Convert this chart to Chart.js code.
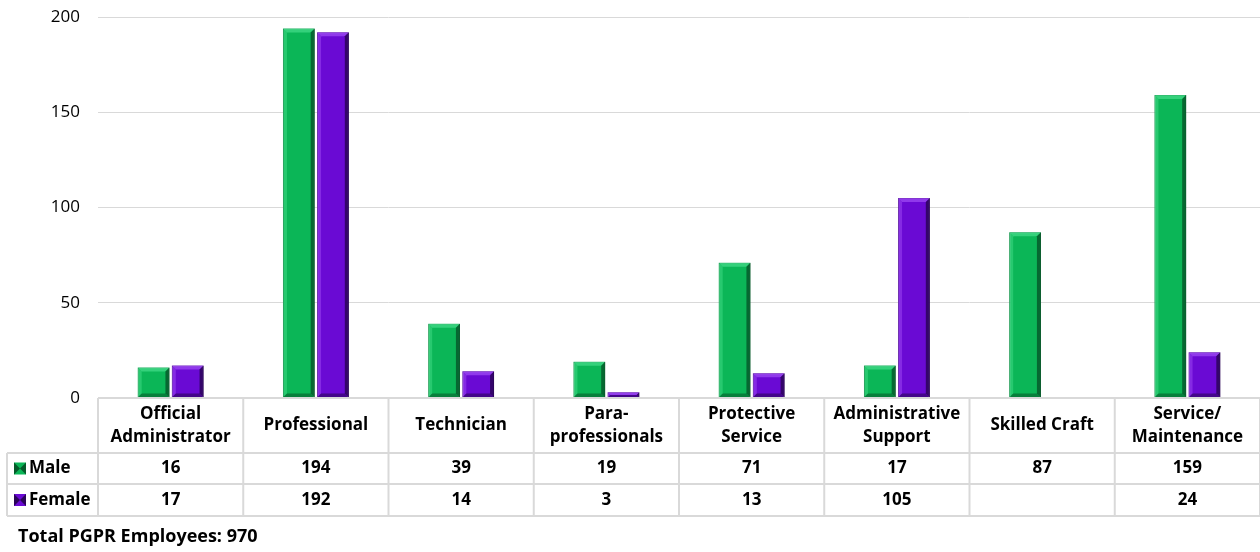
<!DOCTYPE html>
<html>
<head>
<meta charset="utf-8">
<script src="https://cdn.jsdelivr.net/npm/chart.js@4"></script>
<style>
  html, body { margin: 0; padding: 0; background: #fff; }
  #wrap { width: 1260px; height: 552px; position: relative; }
</style>
</head>
<body>
<div id="wrap"><canvas id="eeoChart"></canvas></div>
<script>
const categories = [
  ['Official', 'Administrator'],
  ['Professional'],
  ['Technician'],
  ['Para-', 'professionals'],
  ['Protective', 'Service'],
  ['Administrative', 'Support'],
  ['Skilled Craft'],
  ['Service/', 'Maintenance'],
];
const male = [16, 194, 39, 19, 71, 17, 87, 159];
const female = [17, 192, 14, 3, 13, 105, null, 24];
const yTicks = [0, 50, 100, 150, 200];
const totalNote = 'Total PGPR Employees: 970';

const FONT = '"Open Sans", Lato, sans-serif';
const GRID = '#d9d9d9';

const palette = {
  Male: { base: '#0bb657', light: '#3fd884', dark: '#065a2a' },
  Female: { base: '#6a0ad4', light: '#9a45f0', dark: '#2a0458' },
};

// bevelled look on each bar, drawn over the bars chart.js placed
const bevelPlugin = {
  id: 'bevel',
  afterDatasetsDraw(chart) {
    const c = chart.ctx;
    chart.data.datasets.forEach((ds, di) => {
      const col = palette[ds.label];
      chart.getDatasetMeta(di).data.forEach((bar) => {
        if (bar.skip) return;
        const { x, y, base, width } = bar.getProps(['x', 'y', 'base', 'width'], true);
        if (base - y < 1) return;
        const l = x - width / 2;
        const r = x + width / 2;
        const b = Math.min(4, width / 5, (base - y) / 2);
        c.save();
        c.fillStyle = col.light;
        c.globalAlpha = 0.55;
        c.beginPath();
        c.moveTo(l, y); c.lineTo(l + b, y + b); c.lineTo(l + b, base - b); c.lineTo(l, base);
        c.fill();
        c.globalAlpha = 0.8;
        c.beginPath();
        c.moveTo(l, y); c.lineTo(r, y); c.lineTo(r - b, y + b); c.lineTo(l + b, y + b);
        c.fill();
        c.fillStyle = col.dark;
        c.globalAlpha = 0.85;
        c.beginPath();
        c.moveTo(r, y); c.lineTo(r, base); c.lineTo(r - b, base - b); c.lineTo(r - b, y + b);
        c.fill();
        c.globalAlpha = 0.6;
        c.beginPath();
        c.moveTo(l, base); c.lineTo(r, base); c.lineTo(r - b, base - b); c.lineTo(l + b, base - b);
        c.fill();
        c.restore();
      });
    });
  },
};

// data table under the plot, lined up with the category scale
const tablePlugin = {
  id: 'dataTable',
  afterDraw(chart) {
    const c = chart.ctx;
    const area = chart.chartArea;
    const xs = chart.scales.x;
    const colW = (area.right - area.left) / categories.length;
    const top = area.bottom;
    const headBottom = top + 55;
    const row1Bottom = headBottom + 31;
    const row2Bottom = row1Bottom + 32;
    const leftEdge = 7;

    c.save();
    c.strokeStyle = GRID;
    c.lineWidth = 2;
    c.beginPath();
    c.moveTo(area.left, top); c.lineTo(area.right, top);
    [headBottom, row1Bottom, row2Bottom].forEach((yy) => {
      c.moveTo(leftEdge, yy); c.lineTo(area.right, yy);
    });
    c.moveTo(leftEdge, headBottom); c.lineTo(leftEdge, row2Bottom);
    for (let i = 0; i <= categories.length; i++) {
      const xx = area.left + i * colW;
      c.moveTo(xx, top); c.lineTo(xx, row2Bottom);
    }
    c.stroke();

    c.fillStyle = '#000';
    c.textAlign = 'center';
    c.textBaseline = 'middle';
    c.font = 'bold 17px ' + FONT;
    categories.forEach((lines, i) => {
      const cx = xs.getPixelForValue(i);
      const mid = (top + headBottom) / 2;
      lines.forEach((ln, k) => {
        const yy = mid + (k - (lines.length - 1) / 2) * 23;
        c.fillText(ln, cx, yy);
      });
      c.fillText(male[i] == null ? '' : String(male[i]), cx, (headBottom + row1Bottom) / 2);
      c.fillText(female[i] == null ? '' : String(female[i]), cx, (row1Bottom + row2Bottom) / 2);
    });

    const rows = [
      ['Male', (headBottom + row1Bottom) / 2],
      ['Female', (row1Bottom + row2Bottom) / 2],
    ];
    rows.forEach(([name, cy]) => {
      const col = palette[name];
      const s = 12;
      const sx = 14;
      const sy = cy - s / 2;
      c.fillStyle = col.base;
      c.fillRect(sx, sy, s, s);
      c.fillStyle = col.dark;
      c.beginPath();
      c.moveTo(sx, sy); c.lineTo(sx + s / 2, sy + s / 2); c.lineTo(sx, sy + s);
      c.moveTo(sx + s, sy); c.lineTo(sx + s / 2, sy + s / 2); c.lineTo(sx + s, sy + s);
      c.fill();
      c.fillStyle = '#000';
      c.textAlign = 'left';
      c.fillText(name, sx + s + 3, cy);
    });

    c.textAlign = 'left';
    c.font = 'bold 18px ' + FONT;
    c.fillText(totalNote, 18, 537);
    c.restore();
  },
};

const ctx = document.getElementById('eeoChart');
const eeoChart = new Chart(ctx, {
  type: 'bar',
  data: {
    labels: categories.map((l) => l.join(' ')),
    datasets: [
      {
        label: 'Male',
        data: male,
        backgroundColor: palette.Male.base,
        borderColor: palette.Male.dark,
        borderWidth: 1,
      },
      {
        label: 'Female',
        data: female,
        backgroundColor: palette.Female.base,
        borderColor: palette.Female.dark,
        borderWidth: 1,
      },
    ],
  },
  options: {
    responsive: true,
    maintainAspectRatio: false,
    animation: false,
    layout: { padding: { top: 17, right: 0, bottom: 154, left: 0 } },
    datasets: { bar: { categoryPercentage: 0.47, barPercentage: 0.93 } },
    plugins: {
      legend: { display: false },
      tooltip: { enabled: false },
    },
    scales: {
      x: { display: false },
      y: {
        min: 0,
        max: 200,
        afterBuildTicks(scale) {
          scale.ticks = yTicks.map((v) => ({ value: v }));
        },
        afterFit(scale) { scale.width = 98; },
        border: { display: false },
        // invisible tick marks push the labels left without adding top padding
        grid: { color: GRID, lineWidth: 1, drawTicks: true, tickLength: 18, tickColor: 'rgba(0,0,0,0)' },
        ticks: {
          padding: 0,
          color: '#000',
          font: { family: FONT, size: 17 },
        },
      },
    },
  },
  plugins: [bevelPlugin, tablePlugin],
});
</script>
</body>
</html>
